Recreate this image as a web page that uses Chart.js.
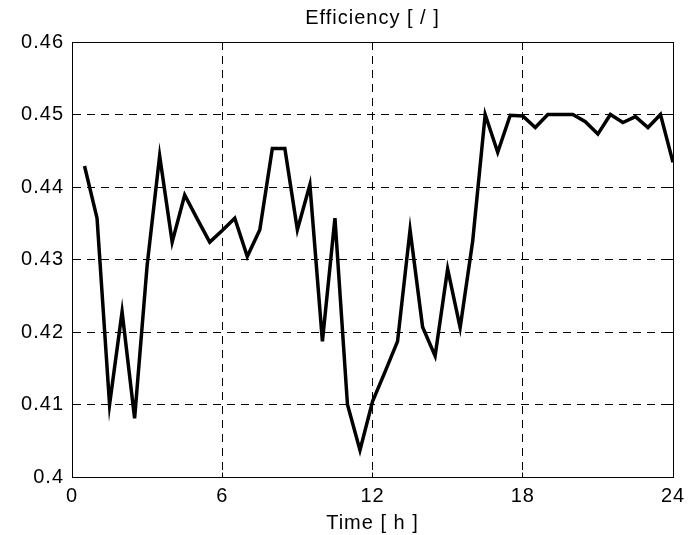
<!DOCTYPE html>
<html>
<head>
<meta charset="utf-8">
<script src="https://cdn.jsdelivr.net/npm/chart.js@4/dist/chart.umd.min.js"></script>
<style>
  body { margin: 0; background: #fff; }
  #wrap { width: 694px; height: 535px; }
</style>
</head>
<body>
<div id="wrap"><canvas id="effChart"></canvas></div>
<script>
// time in hours, half hour steps
const hours = [
  0.5, 1, 1.5, 2, 2.5, 3, 3.5, 4, 4.5, 5, 5.5, 6,
  6.5, 7, 7.5, 8, 8.5, 9, 9.5, 10, 10.5, 11, 11.5, 12,
  12.5, 13, 13.5, 14, 14.5, 15, 15.5, 16, 16.5, 17, 17.5, 18,
  18.5, 19, 19.5, 20, 20.5, 21, 21.5, 22, 22.5, 23, 23.5, 24
];
const efficiency = [
  0.4429, 0.4357, 0.4100, 0.4228, 0.4081, 0.4292, 0.4443, 0.4324, 0.4389, 0.4356, 0.4324, 0.4340,
  0.4357, 0.4304, 0.4341, 0.4453, 0.4453, 0.4341, 0.4403, 0.4187, 0.4357, 0.4100, 0.4037, 0.4104,
  0.4145, 0.4187, 0.4341, 0.4207, 0.4167, 0.4287, 0.4206, 0.4325, 0.4500, 0.4448, 0.4499, 0.4498,
  0.4482, 0.4500, 0.4500, 0.4500, 0.4490, 0.4473, 0.4500, 0.4489, 0.4497, 0.4482, 0.4500, 0.4434
];
const xTicks = [0, 6, 12, 18, 24];
const yTicks = [0.40, 0.41, 0.42, 0.43, 0.44, 0.45, 0.46];

const FONT = "'Liberation Sans', Arial, sans-serif";

// the reference text runs a bit wider than arial, so space the letters out
const spacingPlugin = {
  id: "spacing",
  beforeDraw(chart) {
    chart.ctx.letterSpacing = "1px";
  }
};

// box around the plot plus small inward ticks like matlab
const framePlugin = {
  id: "frame",
  afterDraw(chart) {
    const { ctx, chartArea: a, scales } = chart;
    const al = p => Math.round(p - 0.5) + 0.5;
    ctx.save();
    ctx.strokeStyle = "#000";
    ctx.lineWidth = 1;
    ctx.setLineDash([]);
    const x0 = al(a.left), x1 = al(a.right), y0 = al(a.top), y1 = al(a.bottom);
    ctx.strokeRect(x0, y0, x1 - x0, y1 - y0);
    const len = 5;
    ctx.beginPath();
    xTicks.forEach(v => {
      const x = al(scales.x.getPixelForValue(v));
      ctx.moveTo(x, y1); ctx.lineTo(x, y1 - len);
      ctx.moveTo(x, y0); ctx.lineTo(x, y0 + len);
    });
    yTicks.forEach(v => {
      const y = al(scales.y.getPixelForValue(v));
      ctx.moveTo(x0, y); ctx.lineTo(x0 + len, y);
      ctx.moveTo(x1, y); ctx.lineTo(x1 - len, y);
    });
    ctx.stroke();
    ctx.restore();
  }
};

new Chart(document.getElementById("effChart"), {
  type: "line",
  data: {
    datasets: [{
      data: hours.map((h, i) => ({ x: h, y: efficiency[i] })),
      borderColor: "#000",
      borderWidth: 3.5,
      pointRadius: 0,
      tension: 0,
      fill: false
    }]
  },
  options: {
    responsive: true,
    maintainAspectRatio: false,
    animation: false,
    layout: { padding: { left: 0, right: 21, top: 0, bottom: 0 } },
    plugins: {
      legend: { display: false },
      tooltip: { enabled: false },
      title: {
        display: true,
        text: "Efficiency [ / ]",
        fullSize: false,
        color: "#000",
        font: { family: FONT, size: 20, weight: "normal" },
        padding: { top: 6, bottom: 12 }
      }
    },
    scales: {
      x: {
        type: "linear",
        min: 0,
        max: 24,
        afterBuildTicks: s => { s.ticks = xTicks.map(v => ({ value: v })); },
        afterFit: s => { s.height = 58; },
        ticks: {
          color: "#000",
          padding: 7,
          maxRotation: 0,
          font: { family: FONT, size: 20 }
        },
        grid: {
          color: "#000",
          lineWidth: 1,
          drawTicks: false
        },
        border: { display: true, color: "#000", dash: [8, 6] },
        title: {
          display: true,
          text: "Time [ h ]",
          color: "#000",
          font: { family: FONT, size: 20 },
          padding: { top: 0, bottom: 0 }
        }
      },
      y: {
        type: "linear",
        min: 0.40,
        max: 0.46,
        afterBuildTicks: s => { s.ticks = yTicks.map(v => ({ value: v })); },
        afterFit: s => { s.width = 72; },
        ticks: {
          color: "#000",
          padding: 8,
          font: { family: FONT, size: 20 },
          callback: v => String(+v.toFixed(2))
        },
        grid: {
          color: "#000",
          lineWidth: 1,
          drawTicks: false
        },
        border: { display: true, color: "#000", dash: [8, 6] }
      }
    }
  },
  plugins: [spacingPlugin, framePlugin]
});
</script>
</body>
</html>
